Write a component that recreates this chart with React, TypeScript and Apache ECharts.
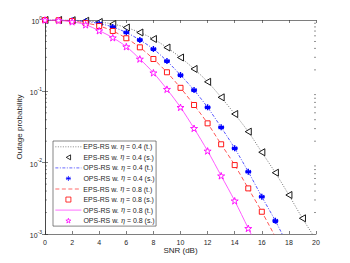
import React, { useEffect, useRef } from "react";
import * as echarts from "echarts";

const snrTheory = [0, 1, 2, 3, 4, 5, 6, 7, 8, 9, 10, 11, 12, 13, 14, 15, 16, 17, 18, 19, 20];
const snrSim = [0, 1, 2, 3, 4, 5, 6, 7, 8, 9, 10, 11, 12, 13, 14, 15, 16, 17, 18, 19];

const epsT04 = [1, 1, 0.993, 0.975, 0.938, 0.879, 0.785, 0.668, 0.542, 0.411, 0.298, 0.206, 0.136, 0.0824, 0.0481, 0.0272, 0.014, 0.00723, 0.00352, 0.00166, 0.00083];
const epsS04 = [1, 1, 0.993, 0.975, 0.938, 0.879, 0.785, 0.668, 0.542, 0.411, 0.298, 0.206, 0.136, 0.0824, 0.0481, 0.0272, 0.014, 0.00723, 0.00352, 0.00166];

const opsT04 = [1, 0.998, 0.984, 0.953, 0.893, 0.798, 0.668, 0.525, 0.392, 0.266, 0.169, 0.104, 0.0596, 0.0313, 0.0159, 0.00746, 0.00333, 0.00153, 0.000646];
const opsS04 = [1, 0.998, 0.984, 0.953, 0.893, 0.798, 0.668, 0.525, 0.392, 0.266, 0.169, 0.104, 0.0596, 0.0313, 0.0159, 0.00746, 0.00333, 0.00153];

const epsT08 = [1, 0.991, 0.968, 0.908, 0.824, 0.702, 0.555, 0.414, 0.284, 0.185, 0.112, 0.0643, 0.0356, 0.0181, 0.00925, 0.00436, 0.00205, 0.000912];
const epsS08 = [1, 0.991, 0.968, 0.908, 0.824, 0.702, 0.555, 0.414, 0.284, 0.185, 0.112, 0.0643, 0.0356, 0.0181, 0.00925, 0.00436, 0.00205];

const opsT08 = [1, 0.986, 0.944, 0.857, 0.708, 0.565, 0.423, 0.284, 0.182, 0.107, 0.0597, 0.0303, 0.0146, 0.00655, 0.00292, 0.0012, 0.0005];
const opsS08 = [1, 0.986, 0.944, 0.857, 0.708, 0.565, 0.423, 0.284, 0.182, 0.107, 0.0597, 0.0303, 0.0146, 0.00655, 0.00292, 0.0012];

const xTicks = { min: 0, max: 20, interval: 2 };
const yRange = { min: 0.001, max: 1 };
const minorTickValues = [
  0.002, 0.003, 0.004, 0.005, 0.006, 0.007, 0.008, 0.009,
  0.02, 0.03, 0.04, 0.05, 0.06, 0.07, 0.08, 0.09,
  0.2, 0.3, 0.4, 0.5, 0.6, 0.7, 0.8, 0.9,
];

const lineNames = [
  "EPS-RS w. {i|η} = 0.4 (t.)",
  "OPS-RS w. {i|η} = 0.4 (t.)",
  "EPS-RS w. {i|η} = 0.8 (t.)",
  "OPS-RS w. {i|η} = 0.8 (t.)",
];
const markerNames = [
  "EPS-RS w. {i|η} = 0.4 (s.)",
  "OPS-RS w. {i|η} = 0.4 (s.)",
  "EPS-RS w. {i|η} = 0.8 (s.)",
  "OPS-RS w. {i|η} = 0.8 (s.)",
];

const FONT = "Liberation Sans, Arial, Helvetica, sans-serif";
const AXIS_COLOR = "#262626";

const leftTriPath = "path://M0,5 L8.66,0 L8.66,10 Z";
const asteriskPath = "path://M5,0 L5,10 M0.7,2.5 L9.3,7.5 M0.7,7.5 L9.3,2.5 M0,5 L10,5 M5,5 Z";
const starPath =
  "path://M50,0 L61.8,36.2 L100,36.2 L69.1,58.8 L80.9,95.1 L50,72.4 L19.1,95.1 L30.9,58.8 L0,36.2 L38.2,36.2 Z";

function pairs(xs: number[], ys: number[]) {
  return ys.map((y, i) => [xs[i], y]);
}

export default function App() {
  const ref = useRef<HTMLDivElement>(null);
  useEffect(() => {
    if (!ref.current) return;
    const chart = echarts.init(ref.current, undefined, { renderer: "svg" });
    const lineSeries = (name: string, xs: number[], ys: number[], color: string, type: any, width = 0.8) => ({
      name,
      type: "line",
      data: pairs(xs, ys),
      symbol: "none",
      showSymbol: false,
      smooth: 0.3,
      clip: true,
      lineStyle: { color, width, type },
      itemStyle: { color },
      z: 2,
    });
    const scatterSeries = (name: string, xs: number[], ys: number[], symbol: string, size: number, color: string, fill: string, bw = 0.8) => ({
      name,
      type: "scatter",
      data: pairs(xs, ys),
      symbol,
      symbolSize: size,
      symbolKeepAspect: true,
      clip: false,
      itemStyle: { color: fill, borderColor: color, borderWidth: bw, opacity: 1 },
      z: 3,
    });
    const legendText = {
      fontSize: 7,
      color: "#262626",
      fontFamily: FONT,
      lineHeight: 10,
      rich: { i: { fontStyle: "italic", fontSize: 7, fontFamily: "DejaVu Serif, serif", lineHeight: 10 } },
    };
    const option: any = {
      animation: false,
      backgroundColor: "#ffffff",
      textStyle: { fontFamily: FONT },
      grid: { left: 45, right: 34, top: 20, bottom: 29, containLabel: false },
      xAxis: [
        {
          type: "value",
          ...xTicks,
          position: "bottom",
          name: "SNR (dB)",
          nameLocation: "middle",
          nameGap: 12,
          nameMoveOverlap: false,
          nameTextStyle: { fontSize: 8, color: "#262626", fontFamily: FONT, verticalAlign: "top", lineHeight: 9 },
          axisLine: { show: true, lineStyle: { color: AXIS_COLOR, width: 0.6 } },
          axisTick: { show: true, inside: true, length: 3, lineStyle: { color: AXIS_COLOR, width: 0.6 } },
          axisLabel: { fontSize: 7, color: "#262626", margin: 5, fontFamily: FONT },
          splitLine: { show: false },
        },
        {
          type: "value",
          ...xTicks,
          position: "top",
          axisLine: { show: true, lineStyle: { color: AXIS_COLOR, width: 0.6 } },
          axisTick: { show: true, inside: true, length: 3, lineStyle: { color: AXIS_COLOR, width: 0.6 } },
          axisLabel: { show: false },
          splitLine: { show: false },
        },
      ],
      yAxis: [
        {
          type: "log",
          ...yRange,
          logBase: 10,
          position: "left",
          name: "Outage probability",
          nameLocation: "middle",
          nameGap: 22,
          nameMoveOverlap: false,
          nameTextStyle: { fontSize: 8, color: "#262626", fontFamily: FONT },
          axisLine: { show: true, lineStyle: { color: AXIS_COLOR, width: 0.6 } },
          axisTick: { show: true, inside: true, length: 3, lineStyle: { color: AXIS_COLOR, width: 0.6 } },
          axisLabel: {
            margin: 3,
            formatter: (v: number) => `{b|10}{s|${Math.round(Math.log10(v))}}`,
            rich: {
              b: { fontSize: 7, color: "#262626", fontFamily: FONT, lineHeight: 10, verticalAlign: "bottom" },
              s: { fontSize: 5, color: "#262626", fontFamily: FONT, lineHeight: 10, verticalAlign: "top" },
            },
          },
          splitLine: { show: false },
        },
        {
          type: "log",
          ...yRange,
          logBase: 10,
          position: "right",
          axisLine: { show: true, lineStyle: { color: AXIS_COLOR, width: 0.6 } },
          axisTick: { show: true, inside: true, length: 3, lineStyle: { color: AXIS_COLOR, width: 0.6 } },
          axisLabel: { show: false },
          splitLine: { show: false },
        },
      ],
      legend: [
        {
          data: lineNames.map((name) => ({ name, itemStyle: { opacity: 0 } })),
          orient: "vertical",
          left: 53,
          top: 141,
          itemWidth: 26,
          itemHeight: 6,
          itemGap: 11.1,
          padding: [0.8, 3, 11, 2],
          borderColor: "#333",
          borderWidth: 0.6,
          backgroundColor: "#fff",
          selectedMode: false,
          z: 10,
          lineStyle: { width: 0.7 },
          textStyle: { ...legendText, padding: [0, 0, 0, -3] },
        },
        {
          data: markerNames,
          orient: "vertical",
          left: 65.5,
          top: 151.55,
          itemWidth: 5,
          itemHeight: 5,
          itemGap: 11.1,
          padding: [0.8, 0, 0, 0],
          backgroundColor: "transparent",
          selectedMode: false,
          z: 11,
          itemStyle: { borderWidth: 0.8 },
          textStyle: { ...legendText, padding: [0, 0, 0, 7.5] },
        },
      ],
      series: [
        lineSeries(lineNames[0], snrTheory, epsT04, "#555555", [1, 1.5], 0.8),
        scatterSeries(markerNames[0], snrSim, epsS04, leftTriPath, 7, "#000000", "#ffffff", 0.9),
        lineSeries(lineNames[1], snrTheory, opsT04, "#2a2aff", [3, 1.5, 1, 1.5], 0.8),
        scatterSeries(markerNames[1], snrSim, opsS04, asteriskPath, 6, "#0000ff", "#0000ff", 1.4),
        lineSeries(lineNames[2], snrTheory, epsT08, "#ff2a2a", [4, 2.5], 0.8),
        scatterSeries(markerNames[2], snrSim, epsS08, "rect", 5, "#ff0000", "#ffffff", 0.9),
        lineSeries(lineNames[3], snrTheory, opsT08, "#ff33ff", "solid", 0.8),
        scatterSeries(markerNames[3], snrSim, opsS08, starPath, 7, "#ff00ff", "#ffffff", 0.9),
        {
          type: "custom",
          silent: true,
          clip: false,
          z: 1,
          encode: { x: 0, y: 1 },
          data: minorTickValues.map((v) => [0, v]),
          renderItem: (params: any, api: any) => {
            const y = api.value(1);
            const p0 = api.coord([0, y]);
            const p1 = api.coord([20, y]);
            const st = { stroke: AXIS_COLOR, lineWidth: 0.5 };
            return {
              type: "group",
              children: [
                { type: "line", shape: { x1: p0[0], y1: p0[1], x2: p0[0] + 2, y2: p0[1] }, style: st },
                { type: "line", shape: { x1: p1[0] - 2, y1: p1[1], x2: p1[0], y2: p1[1] }, style: st },
              ],
            };
          },
        },
      ],
    };
    chart.setOption(option);
    return () => chart.dispose();
  }, []);
  return <div ref={ref} style={{ width: 350, height: 263, margin: -8 }} />;
}
